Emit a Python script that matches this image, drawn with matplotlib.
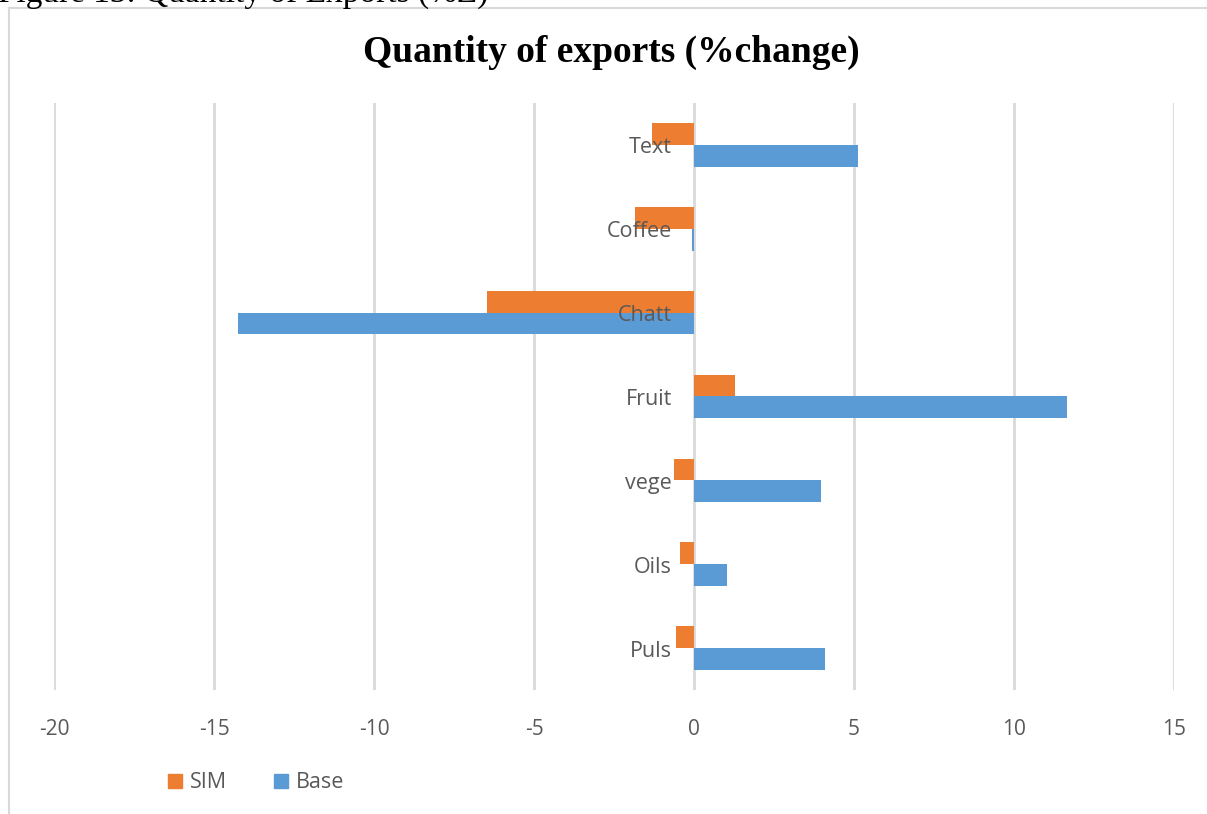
import matplotlib.pyplot as plt
import matplotlib.transforms as mtransforms
from matplotlib.lines import Line2D
from matplotlib.patches import Patch

# Export quantity changes (%) by commodity, bottom to top
categories = ["Puls", "Oils", "vege", "Fruit", "Chatt", "Coffee", "Text"]
sim = [-0.56, -0.44, -0.64, 1.28, -6.47, -1.84, -1.32]
base = [4.09, 1.02, 3.97, 11.66, -14.25, -0.05, 5.13]
xticks = [-20, -15, -10, -5, 0, 5, 10, 15]

orange = "#ED7D31"
blue = "#5B9BD5"
grey_text = "#595959"
grid_col = "#D9D9D9"

plt.rcParams["font.family"] = ["Open Sans", "DejaVu Sans"]

fig = plt.figure(figsize=(12.07, 8.14), dpi=100)
ax = fig.add_axes([54 / 1207, 1 - 690 / 814, 1120 / 1207, 587 / 814])

ypos = list(range(len(categories)))
h = 0.26
ax.barh([y + h / 2 for y in ypos], sim, height=h, color=orange, zorder=3, label="SIM")
ax.barh([y - h / 2 for y in ypos], base, height=h, color=blue, zorder=3, label="Base")

ax.set_xlim(-20, 15)
ax.set_ylim(-0.5, len(categories) - 0.5)
ax.set_xticks(xticks)
ax.set_xticklabels([str(t) for t in xticks], fontsize=15, color=grey_text)
ax.tick_params(axis="x", length=0, pad=21)
ax.set_yticks([])
ax.grid(axis="x", color=grid_col, linewidth=2, zorder=0)
for s in ax.spines.values():
    s.set_visible(False)

# category names sit just left of the zero line
lab_tr = mtransforms.offset_copy(ax.transData, fig=fig, x=-22, y=-3, units="dots")
for y, name in zip(ypos, categories):
    ax.text(0, y, name, transform=lab_tr, ha="right", va="center",
            fontsize=15.5, color=grey_text, zorder=5)

ax.legend(handles=[Patch(color=orange, label="SIM"), Patch(color=blue, label="Base")],
          loc="center", bbox_to_anchor=(256 / 1207, 1 - 783 / 814),
          bbox_transform=fig.transFigure, ncol=2, frameon=False, fontsize=15.5,
          handlelength=0.65, handleheight=0.65, handletextpad=0.35, columnspacing=2.2,
          labelcolor=grey_text)

fig.text(0.5062, 1 - 52 / 814, "Quantity of exports (%change)", ha="center", va="center",
         fontsize=27, fontweight="bold", family="Liberation Serif")

# caption of the document, cut at the top edge
fig.text(-2 / 1207, 1 - 2 / 814, "Figure 13: Quantity of Exports (%Z)", ha="left",
         va="baseline", fontsize=24, family="Liberation Serif")

# chart border
fig.add_artist(Line2D([9 / 1207, 1.0], [1 - 8 / 814] * 2, transform=fig.transFigure,
                      color=grid_col, linewidth=1.5))
fig.add_artist(Line2D([9 / 1207] * 2, [0, 1 - 8 / 814], transform=fig.transFigure,
                      color=grid_col, linewidth=1.5))

fig.savefig("out.png", dpi=100)
